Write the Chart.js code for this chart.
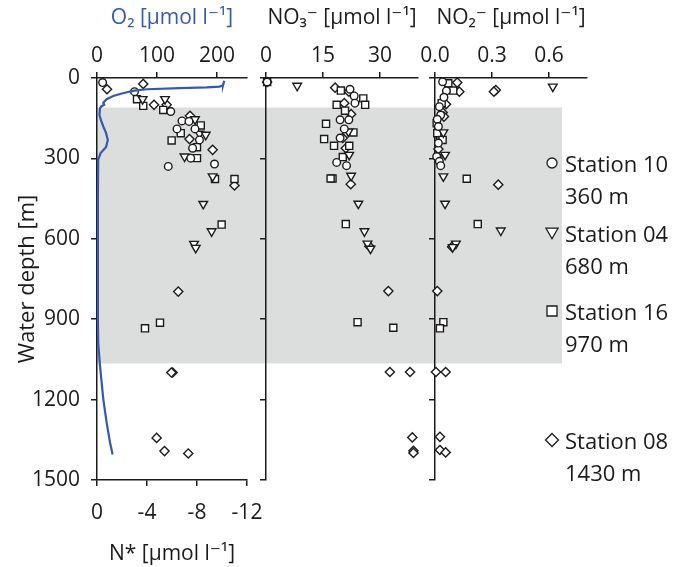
<!DOCTYPE html>
<html>
<head>
<meta charset="utf-8">
<script src="https://cdn.jsdelivr.net/npm/chart.js@4.4.1/dist/chart.umd.min.js"></script>
<style>
  body { margin: 0; background: #fff; }
  #wrap { position: relative; width: 683px; height: 567px; }
  #wrap canvas { position: absolute; left: 0; top: 0; }
</style>
</head>
<body>
<div id="wrap">
  <canvas id="c1" width="683" height="567"></canvas>
  <canvas id="c2" width="683" height="567"></canvas>
  <canvas id="c3" width="683" height="567"></canvas>
</div>
<script>
// depth axis (m), shared by all three panels
const depthTicks = [0, 300, 600, 900, 1200, 1500];
const o2Ticks = [0, 100, 200];
const nstarTicks = [0, -4, -8, -12];
const no3Ticks = [0, 15, 30];
const no2Ticks = [0, 0.3, 0.6];
// shaded depth range (m)
const bandDepth = [110, 1065];

// O2 profile [umol/l, depth]
const o2Profile = [[212,10],[211,20],[210,28],[204,32],[183,35],[138,38],[83,42],[62,47],[50,53],[40,59],
  [27,67],[16,79],[10.5,92],[12,100],[7,106],[5,113],[4,138],[7,160],[10.5,181],[15,205],[18,231],[15,258],
  [6,280],[2,305],[1.5,450],[1.5,700],[1.5,900],[2,987],[5,1074],[10.5,1198],[16,1285],[21.7,1360],[26,1405]];

// N* [value, depth]
const nstar10 = [[-0.45,17],[-3.0,51],[-5.9,125],[-6.8,160],[-7.36,162],[-6.4,190],[-7.84,190],[-8.2,231],
  [-7.65,262],[-7.5,299],[-5.7,330],[-9.4,321]];
const nstar04 = [[-3.65,79],[-5.44,79],[-7.84,154],[-8.2,208],[-8.7,212],[-7.0,293],[-9.25,367],[-8.5,470],
  [-9.17,572],[-7.76,619],[-7.9,634]];
const nstar16 = [[-3.2,79],[-3.7,104],[-5.3,119],[-8.3,177],[-6.7,206],[-5.97,233],[-8.0,258],[-8.0,299],
  [-9.44,377],[-11.0,377],[-9.97,547],[-5.04,913],[-3.84,934]];
const nstar08 = [[-0.8,42],[-3.7,22],[-4.56,100],[-5.57,100],[-7.44,141],[-7.4,228],[-9.25,268],[-11.0,401],
  [-6.5,797],[-6.05,1099],[-5.95,1099],[-4.77,1343],[-5.4,1392],[-7.3,1401]];

// NO3- [value, depth]
const no3_10 = [[0.3,15],[22.1,42],[23.2,67],[23.4,94],[19.5,156],[21.8,156],[20.6,190],[19.5,224],[18.6,315],[21.2,327]];
const no3_04 = [[8.2,29],[21.7,200],[21.9,287],[22.4,365],[24.3,469],[25.9,572],[26.7,618],[27.5,637]];
const no3_16 = [[0.3,15],[19.7,47],[25.6,76],[18.6,100],[26.1,100],[20.8,122],[15.8,171],[23.0,203],[15.3,228],
  [17.9,253],[21.9,253],[20.2,295],[17.5,375],[17.0,375],[21.0,545],[24.1,911],[33.5,932]];
const no3_08 = [[0.3,15],[18.2,36],[21.8,51],[20.6,94],[22.4,135],[20.2,224],[21.0,262],[22.3,396],[27.2,628],
  [32.2,795],[32.6,1097],[37.9,1097],[38.5,1341],[38.8,1391],[38.8,1399]];

// NO2- [value, depth]
const no2_10 = [[0.04,14],[0.06,48],[0.047,72],[0.023,107],[0.03,138],[0.012,154],[0.018,181],[0.018,243],
  [0.009,293],[0.023,311],[0.03,327]];
const no2_04 = [[0.62,32],[0.044,203],[0.053,287],[0.044,367],[0.053,469],[0.346,569],[0.11,618],[0.093,631]];
const no2_16 = [[0.07,20],[0.096,47],[0.035,94],[0.009,169],[0.012,206],[0.04,231],[0.018,299],[0.167,376],
  [0.225,545],[0.044,911],[0.026,934]];
const no2_08 = [[0.117,17],[0.128,51],[0.32,45],[0.31,51],[0.058,98],[0.04,129],[0.047,144],[0.03,224],[0.018,265],
  [0.333,398],[0.09,630],[0.012,795],[0.005,1097],[0.056,1097],[0.026,1339],[0.026,1388],[0.056,1397]];

const stations = [
  { name: 'Station 10', depth: '360 m', style: 'circle', rot: 0, r: 3.8 },
  { name: 'Station 04', depth: '680 m', style: 'triangle', rot: 180, r: 5 },
  { name: 'Station 16', depth: '970 m', style: 'rect', rot: 0, r: 5 },
  { name: 'Station 08', depth: '1430 m', style: 'rectRot', rot: 0, r: 4.6 }
];

const FONT = "'Open Sans', 'DejaVu Sans', sans-serif";
const INK = '#1b1b1b';
const BLUE = '#3558b0';

function pts(arr) { return arr.map(p => ({ x: p[0], y: p[1] })); }

function stationSets(series, xid) {
  return series.map((data, i) => ({
    label: stations[i].name,
    data: pts(data),
    xAxisID: xid,
    yAxisID: 'y',
    pointStyle: stations[i].style,
    rotation: stations[i].rot,
    pointRadius: stations[i].r,
    backgroundColor: '#fff',
    borderColor: INK,
    borderWidth: 1.4,
    clip: false
  }));
}

function depthAxis(showLabels, width) {
  return {
    type: 'linear', position: 'left', min: 0, max: 1500, reverse: true,
    afterBuildTicks: s => { s.ticks = depthTicks.map(v => ({ value: v })); },
    afterFit: s => { s.width = width; },
    ticks: { display: showLabels, color: INK, font: { family: FONT, size: 21 }, padding: 11,
      callback: v => String(v) },
    grid: { drawOnChartArea: false, tickLength: 6, color: INK, lineWidth: 1.5 },
    border: { color: INK, width: 1.5 },
    title: { display: showLabels, text: 'Water depth [m]', color: INK,
      font: { family: FONT, size: 22 }, padding: { top: 15, bottom: 0 } }
  };
}

function valueAxis(pos, min, max, ticks, fmt, title, color, reverse) {
  return {
    type: 'linear', position: pos, min: min, max: max, reverse: !!reverse,
    afterBuildTicks: s => { s.ticks = ticks.map(v => ({ value: v })); },
    afterFit: s => { s.height = pos === 'top' ? 78 : 87; },
    ticks: { color: INK, font: { family: FONT, size: 21 }, padding: pos === 'top' ? 3 : 14,
      maxRotation: 0, callback: fmt },
    grid: { drawOnChartArea: false, tickLength: 6, color: INK, lineWidth: 1.5 },
    border: { color: INK, width: 1.5 },
    title: { display: true, text: title, color: color, font: { family: FONT, size: 21 },
      padding: pos === 'top' ? { top: 5, bottom: 0 } : { top: 0, bottom: 0 } }
  };
}

const baseOpts = {
  responsive: false,
  animation: false,
  devicePixelRatio: 1,
  plugins: { legend: { display: false }, tooltip: { enabled: false } }
};

// grey band behind all panels, from the first panel's left axis
const bandPlugin = {
  id: 'band',
  beforeDraw(chart) {
    const { ctx, chartArea, scales } = chart;
    const t = scales.y.getPixelForValue(bandDepth[0]);
    const b = scales.y.getPixelForValue(bandDepth[1]);
    ctx.save();
    ctx.fillStyle = '#dcdddd';
    ctx.fillRect(chartArea.left, t, 562 - chartArea.left, b - t);
    ctx.restore();
  }
};

function drawMarker(ctx, style, x, y, r) {
  ctx.beginPath();
  if (style === 'circle') {
    ctx.arc(x, y, r, 0, Math.PI * 2);
  } else if (style === 'triangle') {
    ctx.moveTo(x - r, y - r * 0.8); ctx.lineTo(x + r, y - r * 0.8); ctx.lineTo(x, y + r * 0.95); ctx.closePath();
  } else if (style === 'rect') {
    ctx.rect(x - r, y - r, 2 * r, 2 * r);
  } else {
    ctx.moveTo(x, y - r); ctx.lineTo(x + r, y); ctx.lineTo(x, y + r); ctx.lineTo(x - r, y); ctx.closePath();
  }
  ctx.fillStyle = '#fff';
  ctx.fill();
  ctx.stroke();
}

const legendPlugin = {
  id: 'sideLegend',
  afterDraw(chart) {
    const ctx = chart.ctx;
    const rows = [163, 233, 311, 440];
    const sizes = [5, 6, 5, 6.5];
    ctx.save();
    ctx.strokeStyle = INK;
    ctx.lineWidth = 1.3;
    ctx.font = '22px ' + FONT;
    ctx.textBaseline = 'middle';
    stations.forEach((st, i) => {
      const y = rows[i];
      drawMarker(ctx, st.style, 552, y, sizes[i]);
      ctx.fillStyle = INK;
      ctx.fillText(st.name, 565, y + 3);
      ctx.fillText(st.depth, 565, y + 35);
    });
    ctx.restore();
  }
};

// panel 1: N* (points) and O2 (line)
new Chart(document.getElementById('c1'), {
  type: 'scatter',
  data: {
    datasets: [{
      label: 'O2',
      data: pts(o2Profile),
      xAxisID: 'xo',
      yAxisID: 'y',
      showLine: true,
      pointRadius: 0,
      borderColor: BLUE,
      borderWidth: 2.2,
      tension: 0,
      clip: false
    }].concat(stationSets([nstar10, nstar04, nstar16, nstar08], 'xn'))
  },
  options: Object.assign({}, baseOpts, {
    layout: { padding: { left: 0, right: 436, top: 0, bottom: 0 } },
    scales: {
      y: depthAxis(true, 97),
      xo: valueAxis('top', 0, 250, o2Ticks, v => String(v), 'O\u2082 [\u00b5mol l\u207b\u00b9]', BLUE),
      xn: valueAxis('bottom', -12, 0, nstarTicks, v => String(v), 'N* [\u00b5mol l\u207b\u00b9]', INK, true)
    }
  }),
  plugins: [bandPlugin]
});

// panel 2: nitrate
new Chart(document.getElementById('c2'), {
  type: 'scatter',
  data: { datasets: stationSets([no3_10, no3_04, no3_16, no3_08], 'x') },
  options: Object.assign({}, baseOpts, {
    layout: { padding: { left: 250, right: 265, top: 0, bottom: 87 } },
    scales: {
      y: depthAxis(false, 16),
      x: valueAxis('top', 0, 40, no3Ticks, v => String(v), 'NO\u2083\u207b [\u00b5mol l\u207b\u00b9]', INK)
    }
  })
});

// panel 3: nitrite + legend
new Chart(document.getElementById('c3'), {
  type: 'scatter',
  data: { datasets: stationSets([no2_10, no2_04, no2_16, no2_08], 'x') },
  options: Object.assign({}, baseOpts, {
    layout: { padding: { left: 419, right: 96, top: 0, bottom: 87 } },
    scales: {
      y: depthAxis(false, 16),
      x: valueAxis('top', 0, 0.8, no2Ticks, v => v.toFixed(1), 'NO\u2082\u207b [\u00b5mol l\u207b\u00b9]', INK)
    }
  }),
  plugins: [legendPlugin]
});
</script>
</body>
</html>
